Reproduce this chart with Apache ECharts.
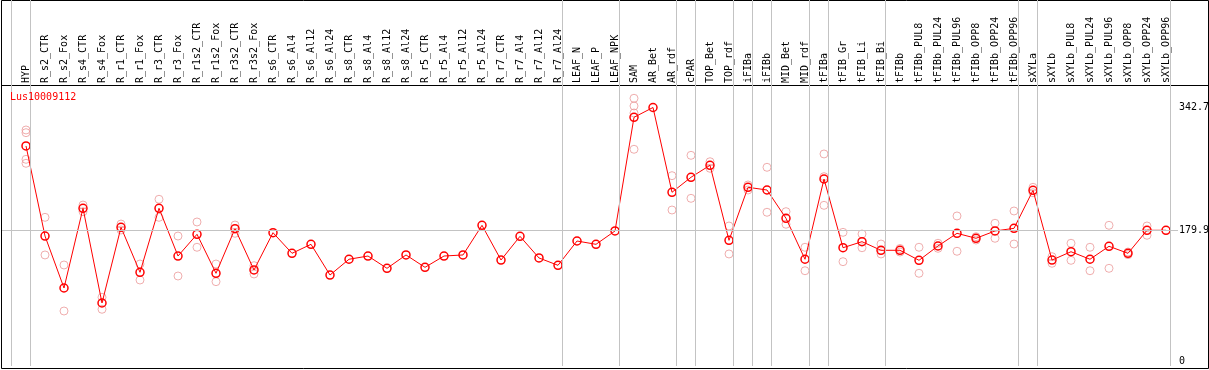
<!DOCTYPE html>
<html>
<head>
<meta charset="utf-8">
<script src="https://cdn.jsdelivr.net/npm/echarts@6/dist/echarts.min.js"></script>
<style>
  html, body { margin: 0; padding: 0; background: #fff; }
  #chart { width: 1209px; height: 370px; }
</style>
</head>
<body>
<div id="chart"></div>
<script>
// sample names, left to right
const categories = [
  'HYP', 'R_s2_CTR', 'R_s2_Fox', 'R_s4_CTR', 'R_s4_Fox', 'R_r1_CTR', 'R_r1_Fox', 'R_r3_CTR', 'R_r3_Fox',
  'R_r1s2_CTR', 'R_r1s2_Fox', 'R_r3s2_CTR', 'R_r3s2_Fox', 'R_s6_CTR', 'R_s6_Al4', 'R_s6_Al12', 'R_s6_Al24',
  'R_s8_CTR', 'R_s8_Al4', 'R_s8_Al12', 'R_s8_Al24', 'R_r5_CTR', 'R_r5_Al4', 'R_r5_Al12', 'R_r5_Al24',
  'R_r7_CTR', 'R_r7_Al4', 'R_r7_Al12', 'R_r7_Al24', 'LEAF_N', 'LEAF_P', 'LEAF_NPK', 'SAM', 'AR_Bet', 'AR_rdf',
  'cPAR', 'TOP_Bet', 'TOP_rdf', 'iFIBa', 'iFIBb', 'MID_Bet', 'MID_rdf', 'tFIBa', 'tFIB_Gr', 'tFIB_Li', 'tFIB_Bi',
  'tFIBb', 'tFIBb_PUL8', 'tFIBb_PUL24', 'tFIBb_PUL96', 'tFIBb_OPP8', 'tFIBb_OPP24', 'tFIBb_OPP96',
  'sXYLa', 'sXYLb', 'sXYLb_PUL8', 'sXYLb_PUL24', 'sXYLb_PUL96', 'sXYLb_OPP8', 'sXYLb_OPP24', 'sXYLb_OPP96'
];

// mean expression per sample
const means = [
  291.7, 172.3, 103.4, 209.1, 83.5, 183.9, 124.2, 209.1, 145.8, 174.6,
  122.9, 182.0, 127.3, 176.7, 149.4, 161.3, 120.6, 141.5, 145.8, 129.5,
  147.2, 130.8, 145.8, 147.2, 186.5, 140.5, 171.9, 143.2, 133.5, 165.7,
  161.3, 179.0, 329.7, 342.7, 230.3, 250.2, 266.1, 166.6, 236.9, 233.3,
  195.8, 141.5, 247.9, 156.8, 164.8, 153.4, 153.4, 140.1, 159.1, 175.9,
  169.3, 179.0, 182.5, 232.9, 140.5, 151.5, 141.5, 158.7, 149.4, 179.9, 179.9
];

// single replicates (light circles)
const replicates = [
  [312.9, 309.3, 274.0, 268.7], [197.1, 147.2], [133.9, 72.9], [213.4, 204.6], [91.1, 75.2],
  [188.2, 180.3], [135.2, 114.0], [221.0, 197.1], [172.3, 119.3], [190.9, 157.4],
  [135.2, 111.8], [186.9, 175.9], [133.0, 122.0], [], [], [], [], [], [], [], [], [], [], [], [], [], [], [], [], [], [], [],
  [354.9, 344.7, 335.4, 287.3], [], [252.3, 206.8], [279.3, 222.3], [270.8, 262.1], [185.6, 148.5],
  [240.0, 233.3], [263.4, 203.8], [204.6, 187.9], [157.4, 126.3], [281.1, 251.0, 213.0],
  [177.2, 138.3], [175.0, 156.8], [161.7, 148.5], [155.8, 151.1], [157.4, 122.9], [162.7, 156.0],
  [198.9, 152.1], [171.4, 167.0], [189.2, 169.3], [205.5, 161.7], [236.9, 229.7], [144.9, 136.2],
  [162.7, 140.1], [157.4, 126.3], [186.5, 129.5], [151.1, 147.6], [185.6, 173.3], []
];

// last sample index of each group (gray separators drawn right after)
const groupEnds = [-1, 0, 28, 31, 34, 35, 37, 38, 39, 41, 42, 45, 52, 53, 60];
const yTicks = [0, 179.9, 342.7];
const refLine = 179.9;
const geneId = 'Lus10009112';

const FONT = 'DejaVu Sans Mono';
const SEP_OFFSET = 4.5 / 19; // separators sit a few px right of the sample

let chart = echarts.init(document.getElementById('chart'), null, { renderer: 'canvas' });

let repData = [];
replicates.forEach((arr, i) => {
  arr.forEach((v) => repData.push([i, v]));
});

let sepLines = groupEnds.map((g) => ({ xAxis: g + SEP_OFFSET }));
sepLines.push({ yAxis: refLine });

let option = {
  animation: false,
  backgroundColor: '#fff',
  title: {
    text: geneId,
    left: 10,
    top: 92,
    padding: 0,
    textStyle: { color: '#ff0000', fontSize: 10, fontFamily: FONT, fontWeight: 'normal' }
  },
  grid: {
    left: 2,
    right: 31,
    top: 0,
    bottom: 4,
    containLabel: false,
    outerBoundsMode: 'none'
  },
  xAxis: {
    type: 'value',
    position: 'top',
    offset: -85,
    min: -24 / 19,
    max: 1152 / 19,
    axisLine: { show: false },
    axisTick: { show: false },
    splitLine: { show: false },
    axisLabel: {
      customValues: categories.map((c, i) => i),
      formatter: (v) => categories[Math.round(v)],
      rotate: 90,
      margin: 2,
      color: '#000',
      fontSize: 10,
      fontFamily: FONT
    }
  },
  yAxis: {
    type: 'value',
    position: 'right',
    min: 0,
    max: 485.2,
    axisLine: { show: false },
    axisTick: { show: false },
    splitLine: { show: false },
    axisLabel: {
      customValues: yTicks,
      formatter: (v) => (v === 0 ? '{z|0}' : String(v)),
      margin: 1,
      align: 'left',
      color: '#000',
      fontSize: 10,
      fontFamily: FONT,
      rich: {
        z: { padding: [0, 0, 10, 0], fontSize: 10, fontFamily: FONT, color: '#000' }
      }
    }
  },
  series: [
    {
      type: 'scatter',
      name: 'replicates',
      data: repData,
      symbol: 'circle',
      symbolSize: 8,
      z: 2,
      itemStyle: { color: 'transparent', borderColor: '#eb9a9a', borderWidth: 1 },
      markLine: {
        silent: true,
        symbol: 'none',
        label: { show: false },
        lineStyle: { color: '#c3c3c3', type: 'solid', width: 1 },
        data: sepLines
      }
    },
    {
      type: 'line',
      name: 'mean',
      data: means.map((v, i) => [i, v]),
      symbol: 'circle',
      symbolSize: 8,
      z: 3,
      lineStyle: { color: '#ff0000', width: 1 },
      itemStyle: { color: 'transparent', borderColor: '#ff0000', borderWidth: 1.5 }
    }
  ],
  graphic: [
    {
      type: 'rect',
      shape: { x: 1.5, y: 0.5, width: 1207, height: 368 },
      style: { fill: 'none', stroke: '#000', lineWidth: 1 },
      silent: true
    },
    {
      type: 'line',
      shape: { x1: 1, y1: 85.5, x2: 1209, y2: 85.5 },
      style: { stroke: '#000', lineWidth: 1 },
      silent: true
    }
  ]
};

chart.setOption(option);
</script>
</body>
</html>
